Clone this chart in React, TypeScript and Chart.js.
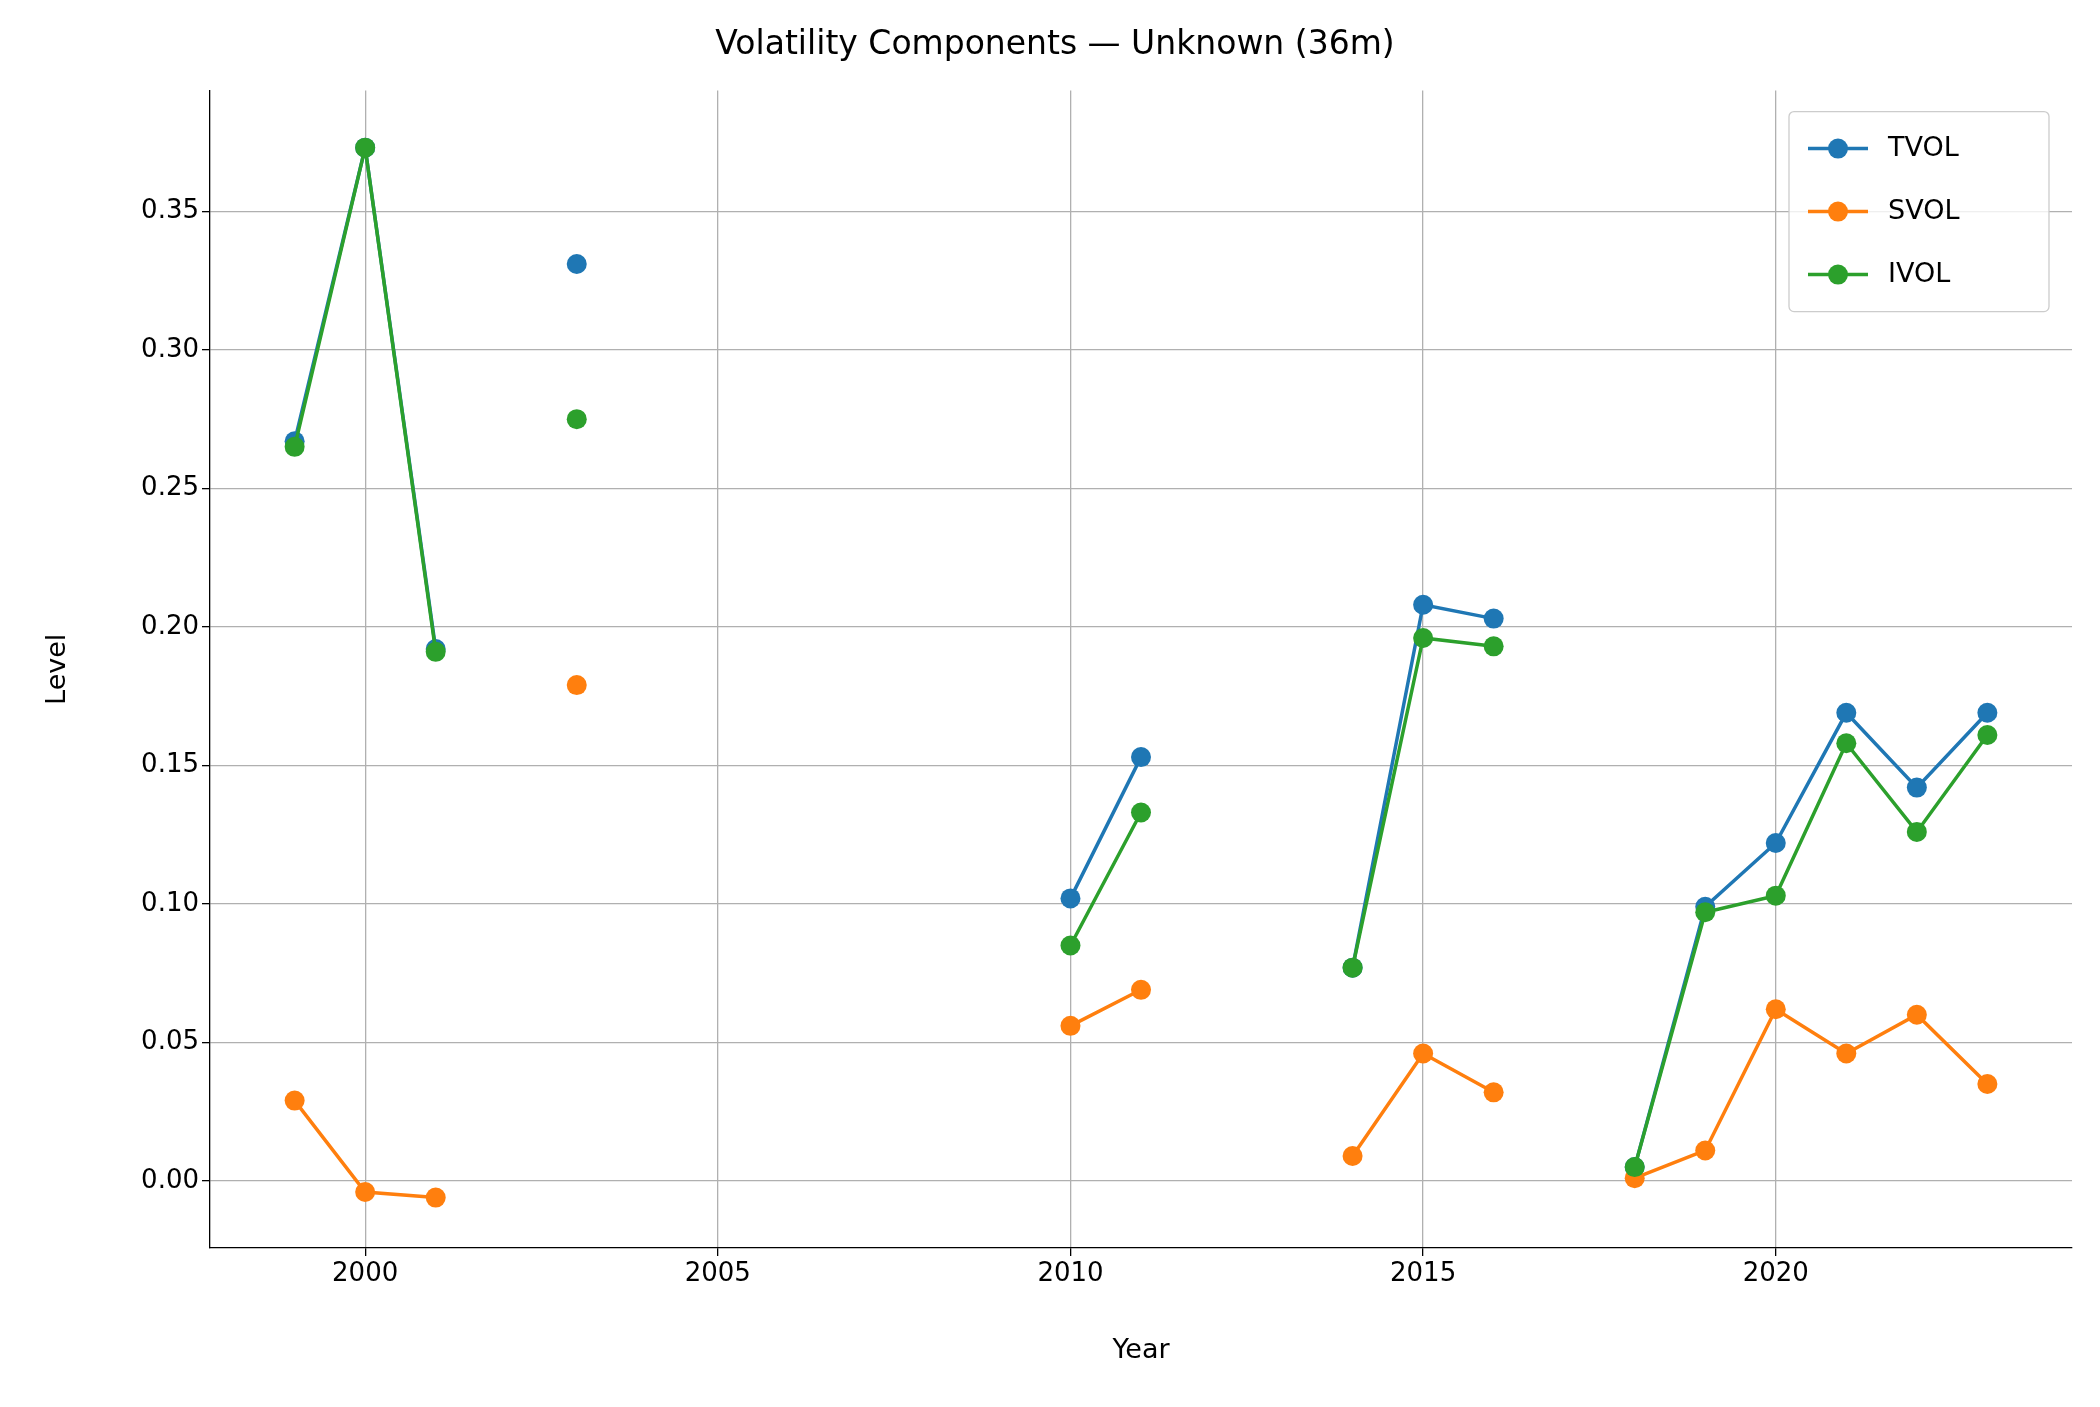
import React, { useEffect, useRef } from 'react';
import { Chart, registerables } from 'chart.js';

Chart.register(...registerables);

const years = [1999, 2000, 2001, 2002, 2003, 2004, 2005, 2006, 2007, 2008, 2009, 2010, 2011, 2012, 2013, 2014, 2015, 2016, 2017, 2018, 2019, 2020, 2021, 2022, 2023];
const tvol = [0.267, 0.373, 0.192, null, 0.331, null, null, null, null, null, null, 0.102, 0.153, null, null, 0.077, 0.208, 0.203, null, 0.005, 0.099, 0.122, 0.169, 0.142, 0.169];
const svol = [0.029, -0.004, -0.006, null, 0.179, null, null, null, null, null, null, 0.056, 0.069, null, null, 0.009, 0.046, 0.032, null, 0.001, 0.011, 0.062, 0.046, 0.06, 0.035];
const ivol = [0.265, 0.373, 0.191, null, 0.275, null, null, null, null, null, null, 0.085, 0.133, null, null, 0.077, 0.196, 0.193, null, 0.005, 0.097, 0.103, 0.158, 0.126, 0.161];
const names = ['TVOL', 'SVOL', 'IVOL'];
const colors = ['#1f77b4', '#ff7f0e', '#2ca02c'];

const FONT = 'DejaVu Sans';

const legendPlugin = {
  id: 'boxLegend',
  afterDraw(chart: any) {
    const ctx = chart.ctx;
    const { right, top } = chart.chartArea;
    const x0 = right - 283, y0 = top + 21, w = 260, h = 200;
    ctx.save();
    ctx.fillStyle = 'rgba(255,255,255,0.8)';
    ctx.strokeStyle = '#cccccc';
    ctx.lineWidth = 1.3;
    ctx.beginPath();
    ctx.roundRect(x0, y0, w, h, 5);
    ctx.fill();
    ctx.stroke();
    names.forEach((n, i) => {
      const y = y0 + 37 + i * 63;
      ctx.strokeStyle = colors[i];
      ctx.lineWidth = 3.5;
      ctx.beginPath();
      ctx.moveTo(x0 + 19, y);
      ctx.lineTo(x0 + 79, y);
      ctx.stroke();
      ctx.fillStyle = colors[i];
      ctx.beginPath();
      ctx.arc(x0 + 49, y, 10, 0, Math.PI * 2);
      ctx.fill();
      ctx.fillStyle = '#000';
      ctx.font = `27px ${FONT}`;
      ctx.textBaseline = 'middle';
      ctx.fillText(n, x0 + 99, y);
    });
    ctx.restore();
  },
};

const App: React.FC = () => {
  const canvasRef = useRef<HTMLCanvasElement | null>(null);

  useEffect(() => {
    document.body.style.margin = '0';
    let chart: any = null;
    if (canvasRef.current) {
      const series = [tvol, svol, ivol];
      chart = new Chart(canvasRef.current, {
        type: 'line',
        data: {
          datasets: names.map((n, i) => ({
            label: n,
            data: years.map((yr, j) => ({ x: yr, y: series[i][j] })),
            borderColor: colors[i],
            backgroundColor: colors[i],
            borderWidth: 3.5,
            pointRadius: 10,
            pointBorderWidth: 0,
            spanGaps: false,
            order: 2 - i,
          })),
        },
        options: {
          animation: false,
          responsive: false,
          layout: { padding: { left: 38, right: 28, top: 0, bottom: 36 } },
          plugins: {
            legend: { display: false },
            tooltip: { enabled: false },
            title: {
              display: true,
              text: 'Volatility Components — Unknown (36m)',
              color: '#000',
              font: { family: FONT, size: 33, weight: 'normal' },
              padding: { top: 26, bottom: 25 },
            },
          },
          scales: {
            x: {
              type: 'linear',
              min: 1997.8,
              max: 2024.2,
              afterBuildTicks: (s: any) => {
                s.ticks = [2000, 2005, 2010, 2015, 2020].map((v) => ({ value: v }));
              },
              afterFit: (s: any) => {
                s.height = 123;
              },
              ticks: {
                color: '#000',
                font: { family: FONT, size: 26 },
                callback: (v: any) => String(v),
                maxRotation: 0,
              },
              grid: { color: '#b0b0b0', lineWidth: 1.3, tickColor: '#000', tickLength: 8 },
              border: { color: '#000', width: 1.3 },
              title: { display: true, text: 'Year', color: '#000', font: { family: FONT, size: 27 } },
            },
            y: {
              min: -0.0242,
              max: 0.3936,
              afterBuildTicks: (s: any) => {
                const t = [];
                for (let k = 0; k <= 7; k++) t.push({ value: k * 0.05 });
                s.ticks = t;
              },
              afterFit: (s: any) => {
                s.width = 172;
              },
              ticks: {
                color: '#000',
                font: { family: FONT, size: 26 },
                callback: (v: any) => Number(v).toFixed(2),
              },
              grid: { color: '#b0b0b0', lineWidth: 1.3, tickColor: '#000', tickLength: 8 },
              border: { color: '#000', width: 1.3 },
              title: { display: true, text: 'Level', color: '#000', font: { family: FONT, size: 27 } },
            },
          },
        },
        plugins: [legendPlugin],
      } as any);
    }
    return () => {
      if (chart) chart.destroy();
    };
  }, []);

  return (
    <div style={{ width: 2100, height: 1407, background: '#fff' }}>
      <canvas ref={canvasRef} width={2100} height={1407} style={{ width: 2100, height: 1407 }} />
    </div>
  );
};

export default App;
